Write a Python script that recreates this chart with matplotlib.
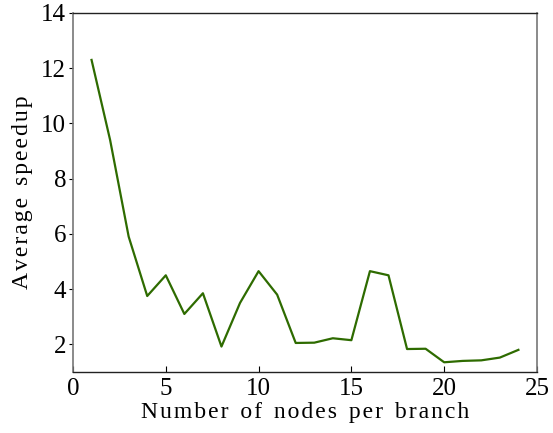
import numpy as np
import matplotlib
matplotlib.use("Agg")
import matplotlib.pyplot as plt

# nodes per branch vs. average speedup
nodes = [1, 2, 3, 4, 5, 6, 7, 8, 9, 10, 11, 12,
         13, 14, 15, 16, 17, 18, 19, 20, 21, 22, 23, 24]
speedup = [12.3, 9.4, 5.9, 3.75, 4.5, 3.1, 3.85, 1.92, 3.5, 4.65, 3.8, 2.05,
           2.06, 2.22, 2.15, 4.65, 4.5, 1.83, 1.84, 1.35, 1.4, 1.42, 1.52, 1.8]

plt.rcParams['font.family'] = ['Liberation Serif', 'DejaVu Serif']

fig = plt.figure(figsize=(5.53, 4.33), dpi=100)
ax = fig.add_axes([0.132, 0.141, 0.839, 0.829])

ax.plot(nodes, speedup, color='#2e6b00', linewidth=1.6)

ax.set_xlim(0, 25)
ax.set_ylim(1, 14)
ax.set_xticks(np.arange(0, 26, 5))
ax.set_yticks(np.arange(2, 15, 2))

ax.tick_params(axis='x', direction='in', length=4, labelsize=18, pad=4)
ax.tick_params(axis='y', direction='out', length=3, labelsize=18, pad=2)

for side in ['left', 'right']:
    ax.spines[side].set_color('#777777')
    ax.spines[side].set_linewidth(1.2)
for side in ['top', 'bottom']:
    ax.spines[side].set_color('#222222')
    ax.spines[side].set_linewidth(1.0)


def spaced(s):
    # wide letter spacing as in the original
    return '\u2002'.join('\u200a'.join(w) for w in s.split(' '))


ax.set_xlabel(spaced('Number of nodes per branch'), fontsize=17, labelpad=2)
ax.set_ylabel(spaced('Average speedup'), fontsize=17, labelpad=6)

fig.savefig('out.png', dpi=100)
